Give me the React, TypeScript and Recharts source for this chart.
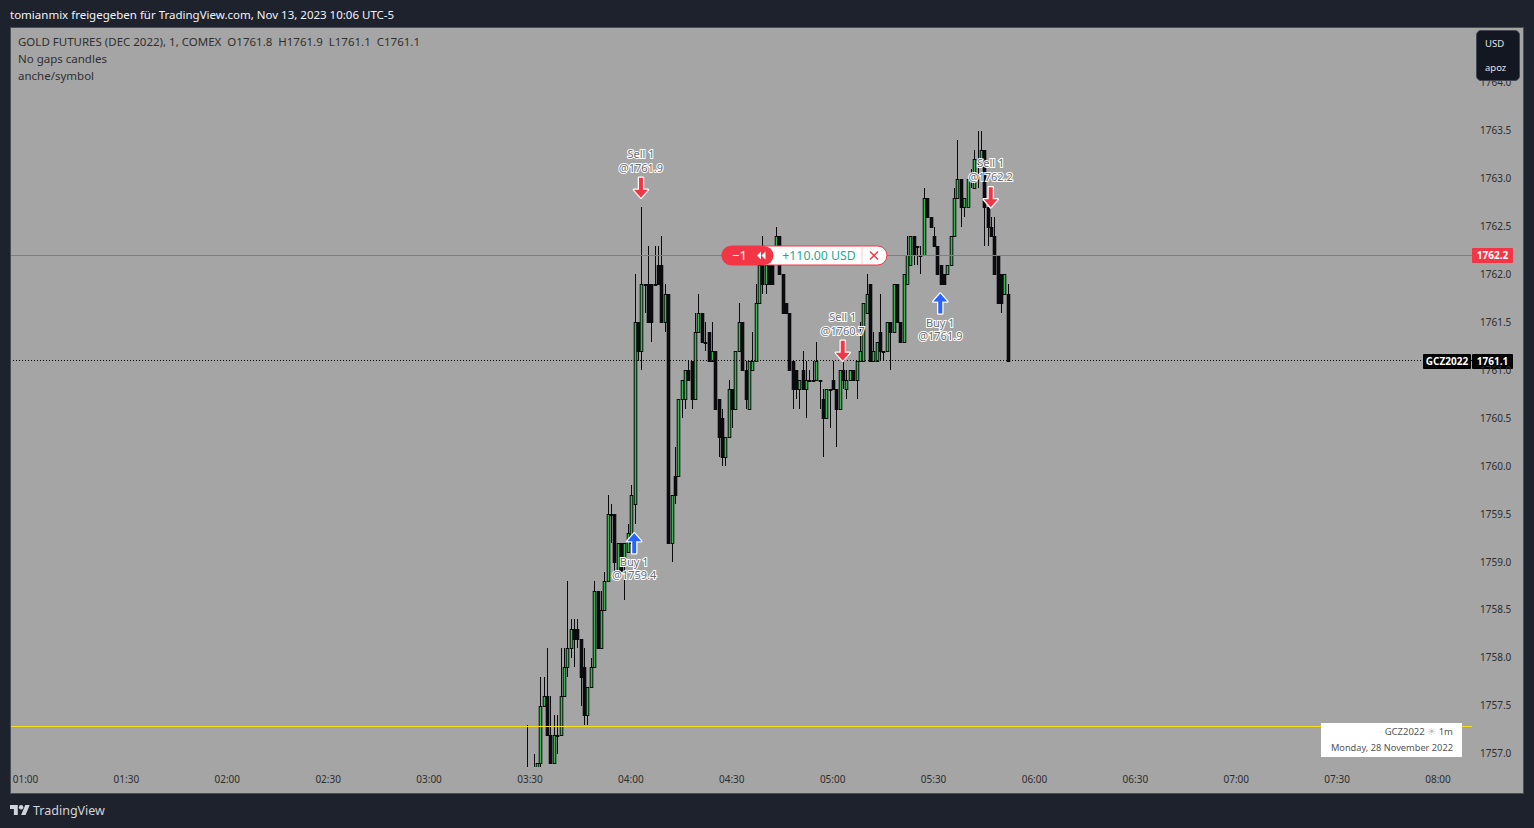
import React from "react";
import {
  Bar,
  ComposedChart,
  ReferenceDot,
  ReferenceLine,
  XAxis,
  YAxis,
} from "recharts";

const FONT = "'Noto Sans', sans-serif";

// first bar of the session, in minutes after midnight (03:29)
const firstMinute = 209;

// one row of 10 values per 10 one-minute bars
const opens = [
  1756.8, 1756.8, 1756.8, 1756.8, 1756.9, 1757.5, 1757.6, 1757.2, 1756.9, 1757.2,
  1757.2, 1757.6, 1757.9, 1758.1, 1758.3, 1758.3, 1758.2, 1757.9, 1757.4, 1757.7,
  1757.9, 1758.7, 1758.1, 1758.5, 1758.8, 1759.5, 1759.5, 1758.9, 1759.2, 1759.0,
  1759.1, 1759.2, 1759.6, 1761.5, 1761.2, 1761.9, 1761.9, 1761.9, 1761.9, 1762.1,
  1762.1, 1761.5, 1761.8, 1759.2, 1759.9, 1759.9, 1760.7, 1760.7, 1761.0, 1761.1,
  1760.7, 1761.4, 1761.6, 1761.3, 1761.4, 1761.1, 1761.2, 1760.7, 1760.5, 1760.1,
  1760.3, 1760.8, 1760.6, 1761.2, 1761.5, 1761.0, 1760.6, 1761.0, 1761.1, 1761.7,
  1762.1, 1761.9, 1762.1, 1762.3, 1762.3, 1762.4, 1762.0, 1761.7, 1761.6, 1761.1,
  1761.0, 1760.8, 1761.0, 1760.8, 1760.9, 1760.9, 1760.9, 1760.9, 1760.7, 1760.5,
  1760.8, 1760.9, 1760.8, 1760.6, 1761.0, 1760.8, 1760.9, 1761.0, 1760.9, 1761.1,
  1761.1, 1761.6, 1761.9, 1761.1, 1761.1, 1761.4, 1761.2, 1761.2, 1761.5, 1761.4,
  1761.9, 1761.5, 1761.3, 1761.9, 1762.1, 1762.4, 1762.3, 1762.2, 1762.2, 1762.8,
  1762.6, 1762.4, 1762.3, 1762.1, 1762.0, 1762.0, 1762.1, 1762.4, 1762.8, 1763.0,
  1762.7, 1762.7, 1763.0, 1762.9, 1763.2, 1763.2, 1763.3, 1762.7, 1762.5, 1762.4,
  1762.2, 1762.0, 1761.8, 1761.8,
];
const highs = [
  1757.3, 1756.8, 1757.0, 1756.9, 1757.8, 1757.8, 1758.1, 1757.6, 1757.4, 1757.4,
  1758.1, 1758.1, 1758.8, 1758.4, 1758.4, 1758.4, 1758.2, 1758.1, 1757.7, 1758.0,
  1758.8, 1758.7, 1758.7, 1758.9, 1759.7, 1759.6, 1759.5, 1759.2, 1759.2, 1759.2,
  1759.4, 1759.8, 1762.0, 1761.5, 1762.7, 1761.9, 1762.3, 1761.9, 1762.3, 1762.3,
  1762.4, 1761.9, 1761.8, 1759.7, 1760.2, 1760.7, 1760.9, 1761.0, 1761.1, 1761.1,
  1761.6, 1761.8, 1761.6, 1761.5, 1761.4, 1761.5, 1761.2, 1760.7, 1760.6, 1760.3,
  1760.9, 1760.8, 1761.2, 1761.7, 1761.5, 1761.1, 1761.1, 1761.4, 1761.9, 1762.1,
  1762.4, 1762.1, 1762.3, 1762.3, 1762.5, 1762.4, 1762.0, 1761.7, 1761.6, 1761.1,
  1761.0, 1760.9, 1761.2, 1761.1, 1761.0, 1761.1, 1761.3, 1760.9, 1760.8, 1760.8,
  1760.8, 1761.1, 1760.8, 1761.0, 1761.1, 1761.0, 1761.0, 1761.0, 1761.1, 1761.5,
  1761.7, 1762.0, 1761.9, 1761.4, 1761.3, 1761.8, 1761.2, 1761.5, 1761.5, 1761.9,
  1761.9, 1761.5, 1762.0, 1762.4, 1762.4, 1762.4, 1762.3, 1762.3, 1762.9, 1762.8,
  1762.6, 1762.5, 1762.3, 1762.1, 1762.0, 1762.1, 1762.4, 1762.9, 1763.4, 1763.0,
  1762.8, 1763.0, 1763.1, 1763.3, 1763.5, 1763.5, 1763.3, 1762.7, 1762.6, 1762.6,
  1762.2, 1762.0, 1762.0, 1761.9,
];
const lows = [
  1756.8, 1756.8, 1756.8, 1756.8, 1756.8, 1757.5, 1757.2, 1756.9, 1756.9, 1757.0,
  1757.2, 1757.6, 1757.8, 1758.0, 1757.9, 1758.1, 1757.5, 1757.3, 1757.3, 1757.7,
  1757.9, 1758.1, 1758.1, 1758.5, 1758.8, 1759.2, 1758.9, 1758.9, 1758.9, 1758.6,
  1759.1, 1759.2, 1759.4, 1761.1, 1761.0, 1761.6, 1761.5, 1761.3, 1761.9, 1761.9,
  1761.5, 1761.4, 1759.2, 1759.0, 1759.6, 1759.9, 1760.5, 1760.6, 1760.9, 1760.6,
  1760.7, 1761.4, 1761.3, 1761.2, 1761.1, 1761.1, 1760.6, 1760.1, 1760.0, 1760.0,
  1760.3, 1760.4, 1760.6, 1761.2, 1761.0, 1760.6, 1760.6, 1761.0, 1761.1, 1761.7,
  1761.8, 1761.8, 1761.9, 1761.9, 1762.3, 1762.0, 1761.6, 1761.6, 1761.0, 1760.6,
  1760.7, 1760.6, 1760.8, 1760.5, 1760.9, 1760.9, 1760.9, 1760.6, 1760.1, 1760.5,
  1760.4, 1760.8, 1760.2, 1760.6, 1760.8, 1760.7, 1760.9, 1760.9, 1760.7, 1761.1,
  1761.1, 1761.6, 1761.1, 1761.1, 1761.1, 1761.1, 1761.1, 1761.2, 1761.0, 1761.4,
  1761.5, 1761.3, 1761.3, 1761.9, 1762.1, 1762.1, 1762.1, 1762.0, 1762.2, 1762.6,
  1762.5, 1762.3, 1762.0, 1761.9, 1761.9, 1762.0, 1762.1, 1762.4, 1762.8, 1762.5,
  1762.6, 1762.7, 1762.9, 1762.9, 1762.9, 1763.2, 1762.3, 1762.3, 1762.4, 1762.0,
  1761.7, 1761.6, 1761.8, 1761.1,
];
const closes = [
  1756.8, 1756.8, 1756.8, 1756.9, 1757.5, 1757.6, 1757.2, 1756.9, 1757.2, 1757.2,
  1757.6, 1757.9, 1758.1, 1758.3, 1758.2, 1758.2, 1757.8, 1757.4, 1757.7, 1757.9,
  1758.7, 1758.1, 1758.5, 1758.8, 1759.5, 1759.5, 1759.0, 1759.2, 1758.9, 1759.2,
  1759.3, 1759.7, 1761.5, 1761.2, 1761.9, 1761.9, 1761.5, 1761.5, 1761.9, 1761.9,
  1761.5, 1761.8, 1759.2, 1759.7, 1759.7, 1760.7, 1760.9, 1761.0, 1760.9, 1760.7,
  1761.4, 1761.6, 1761.3, 1761.3, 1761.1, 1761.2, 1760.6, 1760.3, 1760.1, 1760.3,
  1760.8, 1760.6, 1761.2, 1761.5, 1761.0, 1760.7, 1761.1, 1761.1, 1761.7, 1762.1,
  1761.9, 1762.1, 1761.9, 1761.9, 1762.4, 1762.0, 1761.6, 1761.6, 1761.0, 1760.8,
  1760.8, 1760.9, 1760.8, 1760.9, 1760.9, 1760.9, 1761.1, 1760.9, 1760.5, 1760.8,
  1760.8, 1760.8, 1760.6, 1761.0, 1760.9, 1760.9, 1761.0, 1760.9, 1761.1, 1761.2,
  1761.7, 1761.8, 1761.1, 1761.2, 1761.3, 1761.2, 1761.2, 1761.5, 1761.4, 1761.9,
  1761.5, 1761.3, 1762.0, 1762.2, 1762.4, 1762.2, 1762.3, 1762.2, 1762.8, 1762.6,
  1762.5, 1762.3, 1762.0, 1761.9, 1761.9, 1762.1, 1762.4, 1762.8, 1763.0, 1762.7,
  1762.8, 1763.0, 1763.0, 1763.2, 1763.2, 1763.3, 1762.7, 1762.5, 1762.4, 1762.0,
  1761.7, 1761.7, 1762.0, 1761.1,
];

const priceTicks = [
  1757, 1757.5, 1758, 1758.5, 1759, 1759.5, 1760, 1760.5, 1761, 1761.5, 1762,
  1762.5, 1763, 1763.5, 1764,
];
const timeTicks = [
  60, 90, 120, 150, 180, 210, 240, 270, 300, 330, 360, 390, 420, 450, 480,
];

const tradeSides = ["sell", "buy", "sell", "buy", "sell"];
const tradeMinutes = [243, 241, 303, 332, 347];
const tradeTips = [1762.8, 1759.3, 1761.1, 1761.8, 1762.7];
const tradeLabels = ["Sell 1", "Buy 1", "Sell 1", "Buy 1", "Sell 1"];
const tradePrices = ["@1761.9", "@1759.4", "@1760.7", "@1761.9", "@1762.2"];

const lastPrice = 1761.1;
const positionPrice = 1762.2;
const levelPrice = 1757.28;

const candles = opens.map((open, i) => ({
  minute: firstMinute + i,
  open,
  high: highs[i],
  low: lows[i],
  close: closes[i],
  range: [lows[i], highs[i]],
}));

const fmtTime = (m: number) =>
  `${String(Math.floor(m / 60)).padStart(2, "0")}:${String(m % 60).padStart(2, "0")}`;

const Candle = (props: any) => {
  const { x, y, width, height, payload } = props;
  const { open, close, high, low } = payload;
  const span = high - low || 1;
  const py = (p: number) => y + ((high - p) / span) * height;
  const cx = Math.round(x + width / 2 + 0.5);
  const top = Math.round(py(Math.max(open, close)));
  const bottom = Math.round(py(Math.min(open, close)));
  const h = Math.max(bottom - top, 1);
  const up = close > open;
  return (
    <g>
      <rect x={cx} y={y} width={1} height={Math.max(height, 1)} fill="#0b0b0f" shapeRendering="crispEdges" />
      <rect x={cx - 1.3} y={top} width={3.6} height={h + 1} fill="#0b0b0f" />
      {up && h > 1 && (
        <rect x={cx - 0.3} y={top + 1} width={1.6} height={h - 1} fill="#38b84d" />
      )}
    </g>
  );
};

const TradeMark = (props: any) => {
  const { cx, cy, index } = props;
  const sell = tradeSides[index] === "sell";
  const dir = sell ? -1 : 1;
  const pts = [
    [0, 0],
    [7, 8],
    [2, 8],
    [2, 20],
    [-2, 20],
    [-2, 8],
    [-7, 8],
  ]
    .map(([a, b]) => `${cx + a},${cy + b * dir}`)
    .join(" ");
  const textStyle: React.CSSProperties = {
    fontFamily: FONT,
    fontSize: 11,
    paintOrder: "stroke",
  };
  const y1 = sell ? cy - 40 : cy + 33;
  const y2 = sell ? cy - 26 : cy + 46;
  return (
    <g>
      <polygon
        points={pts}
        fill={sell ? "#f23645" : "#2962ff"}
        stroke="#ffffff"
        strokeWidth={2.5}
        strokeLinejoin="round"
        style={{ paintOrder: "stroke" }}
      />
      <text x={cx} y={y1} textAnchor="middle" fill="#6b6b6b" stroke="#fff" strokeWidth={2} style={textStyle}>
        {tradeLabels[index]}
      </text>
      <text x={cx} y={y2} textAnchor="middle" fill="#6b6b6b" stroke="#fff" strokeWidth={2} style={textStyle}>
        {tradePrices[index]}
      </text>
    </g>
  );
};

// red position pill and its price tag, hung on the position line
const PositionLabel = (props: any) => {
  const { viewBox } = props;
  const cy = Math.floor(viewBox.y) + 0.5;
  const left = 722;
  const plotRight = viewBox.x + viewBox.width;
  return (
    <g fontFamily={FONT}>
      <rect x={left} y={cy - 9.5} width={165} height={19} rx={9.5} fill="#ffffff" stroke="#f23645" />
      <path
        d={`M${left + 9} ${cy - 9.5} H${left + 42} A9.5 9.5 0 0 1 ${left + 42} ${cy + 9.5} H${left + 9} A9.5 9.5 0 0 1 ${left + 9} ${cy - 9.5} Z`}
        fill="#f23645"
      />
      <text x={left + 10} y={cy + 4.5} fontSize={13} fill="#fff">−1</text>
      <path
        d={`M${left + 35} ${cy} l4 -4 v8 Z M${left + 39.5} ${cy} l4 -4 v8 Z`}
        fill="#fff"
      />
      <text x={819} y={cy + 4.5} textAnchor="middle" fontSize={12.3} fill="#22ab94">+110.00 USD</text>
      <line x1={862} x2={862} y1={cy - 9} y2={cy + 9} stroke="#f7c9ce" />
      <path
        d={`M870 ${cy - 4} l8 8 M878 ${cy - 4} l-8 8`}
        stroke="#f23645"
        strokeWidth={1.4}
        fill="none"
      />
      <rect x={plotRight} y={cy - 7.5} width={41} height={15} rx={1} fill="#f23645" />
      <text x={plotRight + 20.5} y={cy + 3.5} textAnchor="middle" fontSize={10} fontWeight={700} fill="#fff">
        {positionPrice.toFixed(1)}
      </text>
    </g>
  );
};

const LastPriceLabel = (props: any) => {
  const { viewBox } = props;
  const cy = Math.round(viewBox.y) + 0.5;
  const plotRight = viewBox.x + viewBox.width;
  return (
    <g fontFamily={FONT} fontSize={10} fontWeight={700} fill="#fff">
      <rect x={plotRight - 49} y={cy - 7.5} width={48} height={15} rx={1} fill="#000" />
      <rect x={plotRight} y={cy - 7.5} width={41} height={15} rx={1} fill="#000" />
      <text x={plotRight - 25} y={cy + 3.5} textAnchor="middle">GCZ2022</text>
      <text x={plotRight + 20.5} y={cy + 3.5} textAnchor="middle">{lastPrice.toFixed(1)}</text>
    </g>
  );
};

const Logo = () => (
  <svg width="20" height="10" viewBox="0 4 36 18" style={{ position: "absolute", left: 10, top: 805 }}>
    <path d="M14 22H7V11H0V4h14v18zM28 22h-8l7.5-18h8L28 22z" fill="#d1d4dc" />
    <circle cx="20" cy="8" r="4" fill="#d1d4dc" />
  </svg>
);

const legendText: React.CSSProperties = {
  position: "absolute",
  left: 18,
  fontSize: 11.5,
  lineHeight: "17px",
  color: "#303030",
  whiteSpace: "nowrap",
};

export default function App() {
  return (
    <div
      style={{
        position: "absolute",
        left: 0,
        top: 0,
        width: 1534,
        height: 828,
        background: "#1e222d",
        fontFamily: FONT,
        overflow: "hidden",
      }}
    >
      <div style={{ position: "absolute", left: 10, top: 6, fontSize: 11.5, lineHeight: "17px", color: "#f0f3fa", whiteSpace: "nowrap" }}>
        tomianmix freigegeben für TradingView.com, Nov 13, 2023 10:06 UTC-5
      </div>

      <div
        style={{
          position: "absolute",
          left: 10,
          top: 27,
          width: 1512,
          height: 765,
          background: "#a5a5a5",
          border: "1px solid #4a4e5a",
        }}
      />

      <div style={{ position: "absolute", left: 0, top: 0 }}>
        <ComposedChart
          width={1534}
          height={828}
          data={candles}
          margin={{ top: 28, right: 11, bottom: 35, left: 11 }}
        >
          <XAxis
            dataKey="minute"
            type="number"
            domain={[55.69, 490.1]}
            allowDataOverflow
            ticks={timeTicks}
            tickFormatter={fmtTime}
            interval={0}
            height={26}
            axisLine={false}
            tickLine={false}
            tickSize={0}
            tickMargin={9}
            tick={{ fontSize: 10, fill: "#2e2e2e", fontFamily: FONT }}
          />
          <YAxis
            orientation="right"
            type="number"
            domain={[1756.861, 1764.571]}
            allowDataOverflow
            ticks={priceTicks}
            interval={0}
            width={51}
            axisLine={false}
            tickLine={false}
            tickSize={0}
            tickMargin={8}
            tickFormatter={(v: number) => v.toFixed(1)}
            tick={{ fontSize: 10, fill: "#2e2e2e", fontFamily: FONT }}
          />
          <ReferenceLine y={levelPrice} stroke="#f7e01b" strokeWidth={1} shapeRendering="crispEdges" />
          <ReferenceLine
            y={lastPrice}
            stroke="#000"
            strokeWidth={1}
            strokeDasharray="1 2"
            shapeRendering="crispEdges"
            label={<LastPriceLabel />}
          />
          <Bar
            dataKey="range"
            barSize={3}
            isAnimationActive={false}
            shape={<Candle />}
          />
          <ReferenceLine
            y={positionPrice}
            stroke="#e0535f"
            strokeWidth={1}
            shapeRendering="crispEdges"
            label={<PositionLabel />}
          />
          {tradeMinutes.map((m, i) => (
            <ReferenceDot
              key={i}
              x={m}
              y={tradeTips[i]}
              shape={(p: any) => <TradeMark {...p} index={i} />}
            />
          ))}
        </ComposedChart>
      </div>

      <div style={{ ...legendText, top: 33 }}>
        GOLD FUTURES (DEC 2022), 1, COMEX&nbsp;&nbsp;O1761.8&nbsp;&nbsp;H1761.9&nbsp;&nbsp;L1761.1&nbsp;&nbsp;C1761.1
      </div>
      <div style={{ ...legendText, top: 50 }}>No gaps candles</div>
      <div style={{ ...legendText, top: 67 }}>anche/symbol</div>

      <div
        style={{
          position: "absolute",
          left: 1476,
          top: 30,
          width: 44,
          height: 51,
          boxSizing: "border-box",
          background: "#131722",
          border: "1px solid #434651",
          borderRadius: 5,
          color: "#e0e3eb",
          fontSize: 9.5,
        }}
      >
        <div style={{ position: "absolute", left: 8, top: 6 }}>USD</div>
        <div style={{ position: "absolute", left: 8, top: 30 }}>apoz</div>
      </div>

      <div
        style={{
          position: "absolute",
          left: 1321,
          top: 723,
          width: 141,
          height: 34,
          background: "#fff",
          color: "#555",
          textAlign: "right",
        }}
      >
        <div style={{ position: "absolute", right: 9, top: 2, fontSize: 9.5, whiteSpace: "nowrap" }}>
          GCZ2022 <span style={{ color: "#bbb" }}>☀</span> 1m
        </div>
        <div style={{ position: "absolute", right: 9, top: 18, fontSize: 9.25, whiteSpace: "nowrap" }}>
          Monday, 28 November 2022
        </div>
      </div>

      <Logo />
      <div style={{ position: "absolute", left: 33, top: 801, fontSize: 12.5, lineHeight: "19px", color: "#d1d4dc" }}>
        TradingView
      </div>
    </div>
  );
}
